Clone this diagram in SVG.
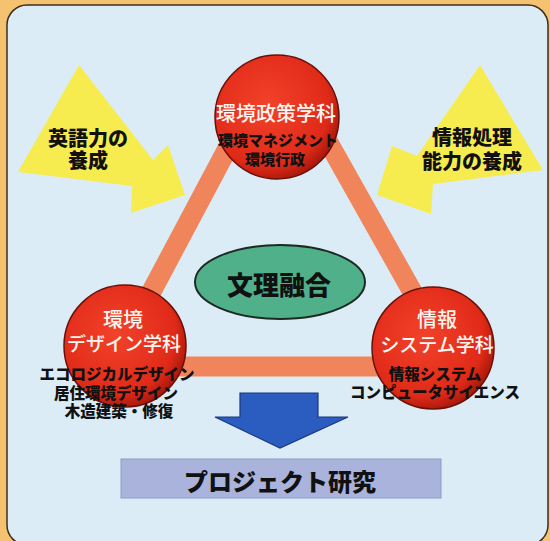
<svg xmlns="http://www.w3.org/2000/svg" width="550" height="541" viewBox="0 0 550 541">
<defs>
<radialGradient id="red" cx="0.42" cy="0.4" r="0.62">
<stop offset="0" stop-color="#f2422a"/>
<stop offset="0.8" stop-color="#e02a18"/>
<stop offset="1" stop-color="#a8180c"/>
</radialGradient>
<style>
.circ{fill:url(#red);stroke:#6a1008;stroke-width:1.5}
.bar{stroke:#f0855c;stroke-width:20;stroke-linecap:butt;fill:none}
.wt{font-family:"Noto Sans CJK JP",sans-serif;fill:#fff6f0;text-anchor:middle;font-weight:500}
.bk{font-family:"Noto Sans CJK JP",sans-serif;fill:#111;text-anchor:middle;font-weight:900}
.yel{fill:#f6ec50}
</style>
</defs>
<rect x="0" y="0" width="550" height="541" fill="#f5c36f"/>
<rect x="7" y="5" width="541" height="540" rx="20" fill="#dcecf6" stroke="#3a2e20" stroke-width="1.5"/>

<g id="arrow-english">
<polygon class="yel" points="79,65 153,160 168,145 185,195 131,213 132,186 18,172"/>
<text class="bk" x="88" y="146" font-size="20">英語力の</text>
<text class="bk" x="88" y="168" font-size="20">養成</text>
</g>
<g id="arrow-info">
<polygon class="yel" points="480,65 543,170 433,184 431,214 377,195 392,146 417,156"/>
<text class="bk" x="472" y="145" font-size="20">情報処理</text>
<text class="bk" x="472" y="169" font-size="20">能力の養成</text>
</g>

<g id="connectors">
<line class="bar" x1="232" y1="140" x2="147" y2="300"/>
<line class="bar" x1="327" y1="140" x2="417" y2="300"/>
<line class="bar" x1="170" y1="366.5" x2="390" y2="366.5"/>
</g>

<g id="center">
<ellipse cx="280" cy="282" rx="85" ry="37" fill="#4fb08a" stroke="#1c2a22" stroke-width="2"/>
<text class="bk" x="279" y="295" font-size="26">文理融合</text>
</g>

<g id="policy">
<circle class="circ" cx="277" cy="117" r="62"/>
<text class="wt" x="276" y="121" font-size="20">環境政策学科</text>
<text class="bk" x="278" y="146" font-size="15">環境マネジメント</text>
<text class="bk" x="275" y="165" font-size="15">環境行政</text>
</g>

<g id="design">
<circle class="circ" cx="125" cy="346" r="61"/>
<text class="wt" x="123" y="327" font-size="20">環境</text>
<text class="wt" x="124" y="351" font-size="19">デザイン学科</text>
<text class="bk" x="117" y="380" font-size="15.5">エコロジカルデザイン</text>
<text class="bk" x="116" y="399" font-size="15.5">居住環境デザイン</text>
<text class="bk" x="119" y="417" font-size="15.5">木造建築・修復</text>
</g>

<g id="info">
<circle class="circ" cx="433" cy="348" r="61"/>
<text class="wt" x="437" y="327" font-size="20">情報</text>
<text class="wt" x="437" y="352" font-size="19">システム学科</text>
<text class="bk" x="435" y="380" font-size="15.5">情報システム</text>
<text class="bk" x="435" y="398" font-size="15.5">コンピュータサイエンス</text>
</g>

<g id="down-arrow">
<polygon points="240,393 318,393 318,417 348,417 280,448 215,417 240,417" fill="#2b5cc0" stroke="#1a367f" stroke-width="1.2"/>
</g>

<g id="project">
<rect x="121" y="459" width="320" height="39" fill="#a9b3dc" stroke="#8f99c8" stroke-width="1"/>
<text class="bk" x="280" y="491" font-size="24">プロジェクト研究</text>
</g>
</svg>
